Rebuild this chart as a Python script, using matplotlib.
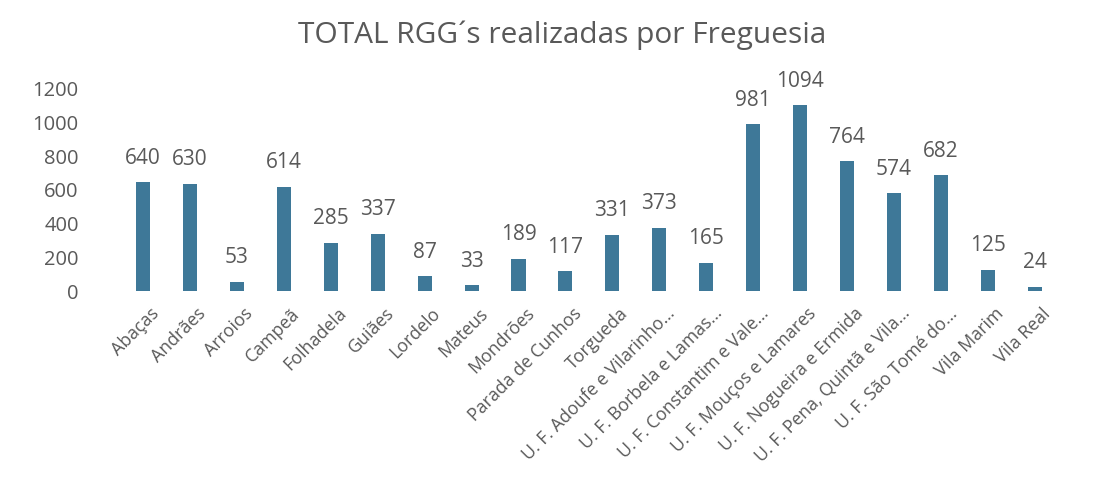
import numpy as np
import matplotlib
matplotlib.use("Agg")
import matplotlib.pyplot as plt
from matplotlib.transforms import ScaledTranslation

FREGUESIAS = [
    "Abaças", "Andrães", "Arroios", "Campeã", "Folhadela", "Guiães",
    "Lordelo", "Mateus", "Mondrões", "Parada de Cunhos", "Torgueda",
    "U. F. Adoufe e Vilarinho...", "U. F. Borbela e Lamas...",
    "U. F. Constantim e Vale...", "U. F. Mouços e Lamares",
    "U. F. Nogueira e Ermida", "U. F. Pena, Quintã e Vila...",
    "U. F. São Tomé do...", "Vila Marim", "Vila Real",
]
TOTAIS = [640, 630, 53, 614, 285, 337, 87, 33, 189, 117, 331, 373, 165,
          981, 1094, 764, 574, 682, 125, 24]
Y_TICKS = [0, 200, 400, 600, 800, 1000, 1200]

BAR_COLOR = "#3E7898"
TEXT_COLOR = "#595959"
plt.rcParams["font.family"] = ["Open Sans", "DejaVu Sans"]

fig = plt.figure(figsize=(10.96, 4.81), dpi=100)
ax = fig.add_axes([0.1048, 0.393, 0.865, 0.424])

x = np.arange(len(FREGUESIAS))
ax.bar(x, TOTAIS, width=0.3, color=BAR_COLOR)

for xi, v in zip(x, TOTAIS):
    ax.annotate(str(v), (xi, v), xytext=(0, 18), textcoords="offset points",
                ha="center", va="center", fontsize=15, color=TEXT_COLOR)

ax.set_xlim(-0.6, len(FREGUESIAS) - 0.4)
ax.set_ylim(0, 1200)
ax.set_yticks(Y_TICKS)
ax.set_xticks(x)
ax.set_xticklabels(FREGUESIAS, rotation=45, ha="right", rotation_mode="anchor",
                   fontsize=12.8, color=TEXT_COLOR)
ax.tick_params(axis="y", length=0, pad=26, labelsize=14.5, labelcolor=TEXT_COLOR)
ax.tick_params(axis="x", length=0, pad=9)
shift = ScaledTranslation(5 / 72, 0, fig.dpi_scale_trans)
for lbl in ax.get_xticklabels():
    lbl.set_transform(lbl.get_transform() + shift)
for s in ax.spines.values():
    s.set_visible(False)

fig.text(0.513, 0.927, "TOTAL RGG´s realizadas por Freguesia", ha="center",
         va="center", fontsize=21.5, color=TEXT_COLOR)

fig.savefig("out.png", dpi=100, facecolor="white")
